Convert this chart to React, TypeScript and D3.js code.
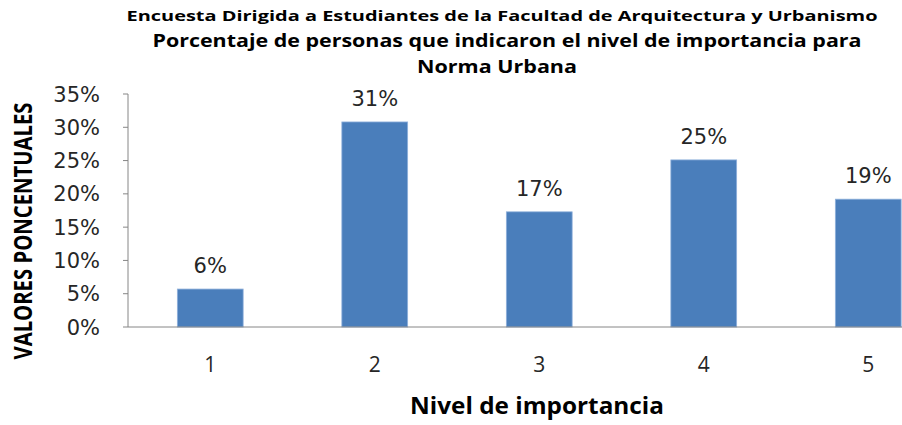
import React from 'react';
import * as d3 from 'd3';

const niveles = ['1', '2', '3', '4', '5'];
const porcentajes = [5.7, 30.8, 17.3, 25.1, 19.2];
const yTicks = [0, 5, 10, 15, 20, 25, 30, 35];
const tituloLineas = [
  'Encuesta Dirigida a Estudiantes de la  Facultad de Arquitectura y Urbanismo',
  'Porcentaje de personas que indicaron el nivel de importancia para',
  'Norma Urbana',
];

export default function App() {
  const width = 902;
  const height = 425;
  const margin = { top: 94, left: 128, bottom: 98 };
  const plotBottom = height - margin.bottom; // 327

  const x = d3.scaleBand<string>()
    .domain(niveles)
    .range([margin.left, margin.left + 5 * 164.5])
    .paddingInner(0.6)
    .paddingOuter(0.3);

  const y = d3.scaleLinear().domain([0, 35]).range([plotBottom, margin.top]);

  const numFont = '"DejaVu Sans", Verdana, sans-serif';
  const titleFont = '"Open Sans", "Liberation Sans", sans-serif';
  const textColor = '#262626';

  return (
    <svg width={width} height={height} style={{ position: 'absolute', left: 0, top: 0, background: '#fff' }}>
      {/* titulo */}
      <g fontFamily={titleFont} fontWeight="bold" fill="#000" textAnchor="middle">
        <text x={502} y={21} fontSize={15} textLength={751} lengthAdjust="spacingAndGlyphs">{tituloLineas[0]}</text>
        <text x={507} y={47} fontSize={18} textLength={709} lengthAdjust="spacingAndGlyphs">{tituloLineas[1]}</text>
        <text x={497} y={73} fontSize={18} textLength={160} lengthAdjust="spacingAndGlyphs">{tituloLineas[2]}</text>
      </g>

      {/* eje y */}
      <line x1={margin.left} x2={margin.left} y1={margin.top} y2={plotBottom} stroke="#868686" />
      {yTicks.map(t => (
        <g key={t}>
          <line x1={margin.left - 5} x2={margin.left} y1={y(t)} y2={y(t)} stroke="#868686" />
          <text x={100} y={y(t)} dy="0.36em" textAnchor="end" fontFamily={numFont} fontSize={21} fill={textColor}>
            {t}%
          </text>
        </g>
      ))}

      {/* barras */}
      {niveles.map((n, i) => (
        <g key={n}>
          <rect
            x={x(n)}
            y={y(porcentajes[i])}
            width={x.bandwidth()}
            height={plotBottom - y(porcentajes[i])}
            fill="#4A7EBB"
            stroke="#8FB0DB"
            strokeWidth={0.8}
          />
          <text
            x={(x(n) || 0) + x.bandwidth() / 2}
            y={y(porcentajes[i]) - 16}
            textAnchor="middle"
            fontFamily={numFont}
            fontSize={21}
            fill={textColor}
          >
            {Math.round(porcentajes[i])}%
          </text>
          <text
            x={(x(n) || 0) + x.bandwidth() / 2}
            y={372}
            textAnchor="middle"
            fontFamily={titleFont}
            fontSize={21}
            fill={textColor}
          >
            {n}
          </text>
        </g>
      ))}

      {/* eje x */}
      <line x1={margin.left} x2={width} y1={plotBottom} y2={plotBottom} stroke="#868686" />

      <text x={537} y={414} textAnchor="middle" fontFamily={titleFont} fontWeight="bold" fontSize={23} fill="#000"
        textLength={254} lengthAdjust="spacingAndGlyphs">
        Nivel de importancia
      </text>

      <text transform="translate(32,231) rotate(-90)" textAnchor="middle" fontFamily={titleFont} fontWeight="bold"
        fontSize={25} fill="#000" textLength={257} lengthAdjust="spacingAndGlyphs">
        VALORES PONCENTUALES
      </text>
    </svg>
  );
}
